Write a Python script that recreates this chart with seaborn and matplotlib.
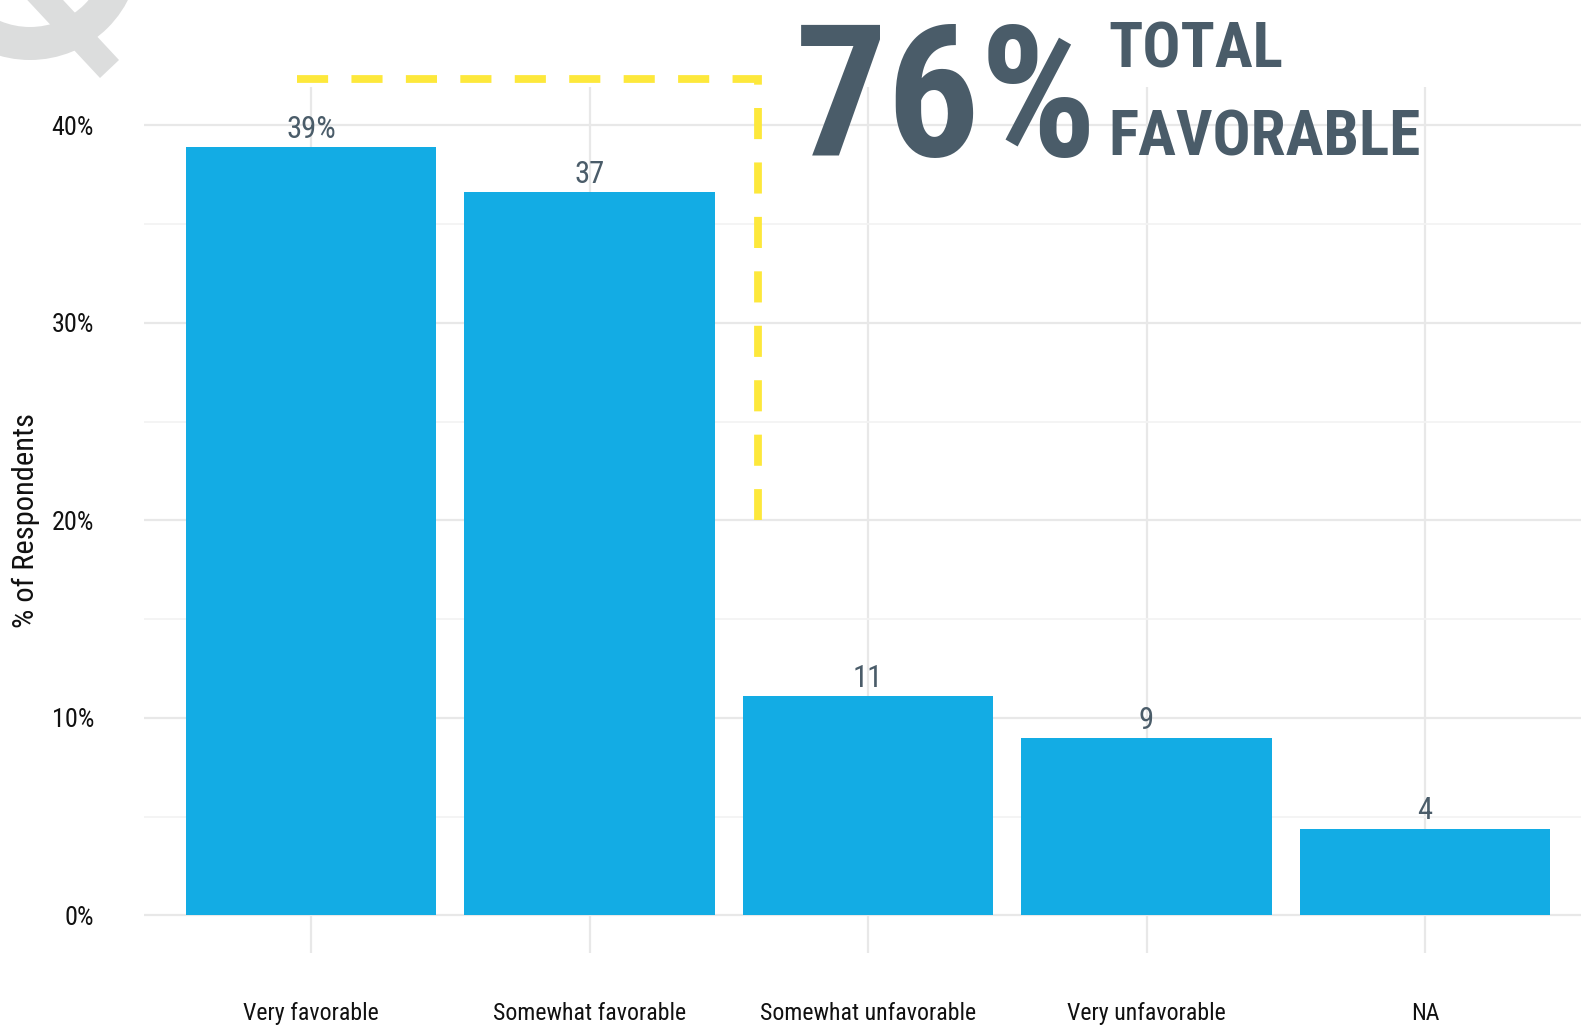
import numpy as np
import pandas as pd
import seaborn as sns
import matplotlib
matplotlib.use('Agg')
import matplotlib.pyplot as plt
from matplotlib import font_manager as fm
from matplotlib.ticker import MultipleLocator, NullLocator
from matplotlib.patches import Wedge, Polygon

# survey answers and share of respondents (%)
categories = ["Very favorable", "Somewhat favorable", "Somewhat unfavorable",
              "Very unfavorable", "NA"]
pct = [38.9, 36.6, 11.1, 9.0, 4.4]
bar_labels = ["39%", "37", "11", "9", "4"]
yticks = [0, 10, 20, 30, 40]
ytick_labels = ["0%", "10%", "20%", "30%", "40%"]

BLUE = "#13ACE4"
SLATE = "#4A5C69"
YELLOW = "#FDE83B"
LOGO = "#DCDDDD"
GRID = "#E8E8E8"
GRID_MINOR = "#F3F3F3"


def pick_font():
    # look for a narrow / condensed face, fall back to Liberation Sans
    fonts = fm.fontManager.ttflist
    names = {f.name for f in fonts}
    for cand in ["Liberation Sans Narrow", "Roboto Condensed", "Open Sans Condensed",
                 "Noto Sans Condensed", "DejaVu Sans Condensed"]:
        if cand in names:
            return cand, "normal"
    for f in fonts:
        if str(f.stretch) in ("condensed", "semi-condensed", "extra-condensed"):
            return f.name, str(f.stretch)
    for cand in ["Roboto", "Liberation Sans", "Noto Sans"]:
        if cand in names:
            return cand, "normal"
    return "DejaVu Sans", "normal"


sns.set_theme(style="white")
font_name, font_stretch = pick_font()
plt.rcParams['font.family'] = [font_name, 'DejaVu Sans']
plt.rcParams['font.stretch'] = font_stretch

W, H = 1581, 1026
fig = plt.figure(figsize=(W / 100, H / 100), dpi=100)
fig.patch.set_facecolor("white")
renderer = fig.canvas.get_renderer()


def fit_size(text, target_px, nominal, **kw):
    t = fig.text(0, 0, text, fontsize=nominal, **kw)
    w = t.get_window_extent(renderer=renderer).width
    t.remove()
    return nominal * min(1.0, target_px / w)


# scale the small text so label widths follow the reference
s = fit_size("Somewhat unfavorable", 216, 18) / 18
ytick_size = fit_size("40%", 42, 21)
value_size = fit_size("39%", 50, 24)

# main panel (pixel layout)
ax = fig.add_axes([144 / W, 1 - 953 / H, 1 - 144 / W, (953 - 87) / H])
ax.patch.set_alpha(0)
df = pd.DataFrame({"answer": categories, "pct": pct})
sns.barplot(data=df, x="answer", y="pct", color=BLUE, saturation=1,
            width=0.9, linewidth=0, ax=ax)

ax.set_xlim(-0.6, 4.56)
ax.set_ylim(-1.9, 41.93)
ax.set_yticks(yticks)
ax.set_yticklabels(ytick_labels)
ax.yaxis.set_minor_locator(MultipleLocator(5))
ax.xaxis.set_minor_locator(NullLocator())
ax.set_axisbelow(True)
ax.grid(which="major", axis="both", color=GRID, lw=1.6)
ax.grid(which="minor", axis="y", color=GRID_MINOR, lw=1.3)
for sp in ax.spines.values():
    sp.set_visible(False)
ax.tick_params(axis="both", which="both", length=0)
ax.tick_params(axis="x", labelsize=18 * s, pad=35, labelcolor="#111111")
ax.tick_params(axis="y", labelsize=ytick_size, pad=36, labelcolor="#111111")
ax.set_xlabel("")
ax.set_ylabel("% of Respondents", fontsize=23 * s, color="#111111")
ax.yaxis.label.set_va("center")
ax.yaxis.set_label_coords(-0.082, 0.5)

for i, (v, lab) in enumerate(zip(pct, bar_labels)):
    ax.annotate(lab, (i, v), xytext=(0, 6.5), textcoords="offset points",
                ha="center", va="baseline", fontsize=value_size, color=SLATE)

# yellow dashed bracket around the favorable answers
bracket_x = [-0.05, 1.605, 1.605]
bracket_y = [42.33, 42.33, 20]
ax.plot(bracket_x, bracket_y, color=YELLOW, lw=5.6, ls=(0, (4, 3)),
        clip_on=False, dash_capstyle="butt", dash_joinstyle="miter", zorder=5)

# headline
total_fav = int(round(pct[0])) + int(round(pct[1]))
big = f"{total_fav}%"
big_size = fit_size(big, 303, 141, fontweight="bold")
side_size = fit_size("FAVORABLE", 312, 55, fontweight="bold")
fig.text(795 / W, 1 - 156 / H, big, fontsize=big_size, fontweight="bold",
         color=SLATE, ha="left", va="baseline")
fig.text(1108 / W, 1 - 68 / H, "TOTAL", fontsize=side_size, fontweight="bold",
         color=SLATE, ha="left", va="baseline")
fig.text(1108 / W, 1 - 156 / H, "FAVORABLE", fontsize=side_size, fontweight="bold",
         color=SLATE, ha="left", va="baseline")

# grey logo fragment in the top-left corner
ov = fig.add_axes([0, 0, 1, 1], zorder=-1)
ov.set_xlim(0, W)
ov.set_ylim(H, 0)
ov.axis("off")
ov.patch.set_alpha(0)
ov.add_patch(Wedge((30, -50), 110, 0, 360, width=33, color=LOGO, lw=0))
ov.add_patch(Polygon([(-10, -40), (100, 78), (119, 60), (9, -58)],
                     closed=True, color=LOGO, lw=0))

fig.savefig("out.png", dpi=100)
